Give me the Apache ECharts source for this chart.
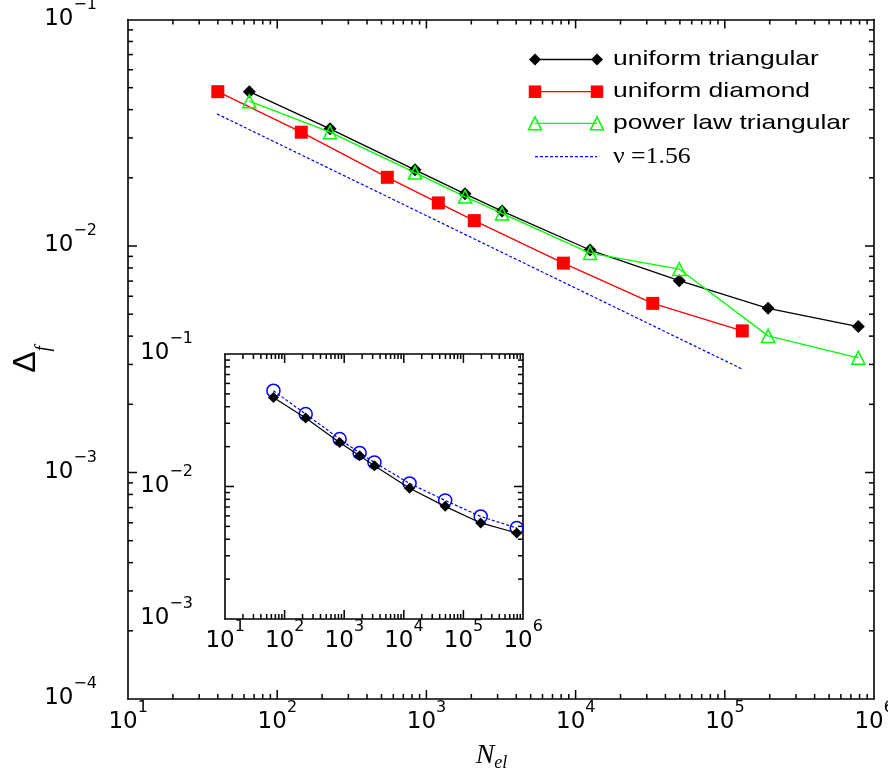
<!DOCTYPE html>
<html>
<head>
<meta charset="utf-8">
<script src="https://cdn.jsdelivr.net/npm/echarts@6/dist/echarts.min.js"></script>
<style>
html, body { margin: 0; padding: 0; background: #fff; }
#chart { width: 888px; height: 782px; }
</style>
</head>
<body>
<div id="chart"></div>
<script>
// Mesh sizes (number of elements) and relative error Delta_f for each mesh family
const nTriangular = [65, 226, 839, 1815, 3214, 12500, 49500, 195000, 785000];
const deltaUniformTriangular = [0.0480, 0.0329, 0.0217, 0.0170, 0.01426, 0.0096, 0.00703, 0.00531, 0.00441];
const deltaPowerLawTriangular = [0.0436, 0.0318, 0.0211, 0.01652, 0.01393, 0.00931, 0.00791, 0.00401, 0.00321];
const nDiamond = [40, 145, 547, 1202, 2094, 8280, 32900, 131000];
const deltaUniformDiamond = [0.0480, 0.0318, 0.0201, 0.0155, 0.01294, 0.00840, 0.00558, 0.00422];
// Reference power law with nu = 1.56 (end points of the guide line)
const nFit = [39.5, 131000];
const deltaFit = [0.0383, 0.00286];
// Inset: uniform triangular meshes, two estimates
const nInset = [65, 226, 839, 1815, 3214, 12500, 49500, 195000, 785000];
const deltaInsetDiamonds = [0.0470, 0.0329, 0.0215, 0.0171, 0.01435, 0.0097, 0.00708, 0.00531, 0.00446];
const deltaInsetCircles = [0.0528, 0.0352, 0.0228, 0.0179, 0.0152, 0.01054, 0.00785, 0.00594, 0.00486];

const seriesNames = ['uniform triangular', 'uniform diamond', 'power law triangular', '\u03bd =1.56'];

// Decade tick values
const xDecades = [10, 100, 1e3, 1e4, 1e5, 1e6];
const yDecadesMain = [1e-4, 1e-3, 1e-2, 1e-1];
const yDecadesInset = [1e-3, 1e-2, 1e-1];

// Plot boxes (main frame and inset)
const mainBox = { left: 128, top: 19.5, width: 746, height: 679.5 };
const insetBox = { left: 225, top: 354, width: 298, height: 265 };

const GREEN = '#00ff00';
const RED = '#ff0000';
const BLUE = '#0000ff';

// The 2..9 multiples inside each decade
function minorValues(decades) {
  const out = [];
  for (let i = 0; i < decades.length - 1; i++) {
    for (let m = 2; m <= 9; m++) out.push(decades[i] * m);
  }
  return out;
}

function powerLabel(v) {
  const p = Math.round(Math.log10(v));
  return '{h| }{b|10}{e|' + (p < 0 ? '\u2212' + (-p) : String(p)) + '}';
}

const labelRich = {
  h: { fontSize: 1, lineHeight: 34 },
  b: { fontFamily: 'DejaVu Sans', fontSize: 23, lineHeight: 24, verticalAlign: 'bottom', color: '#000' },
  e: { fontFamily: 'DejaVu Sans', fontSize: 16, lineHeight: 20, verticalAlign: 'top', color: '#000' }
};

// Framed log axes: one on each side of the plot box
function buildAxes(dim, gridIndex, decades, labelMargin, extra) {
  const sides = dim === 'x' ? ['bottom', 'top'] : ['left', 'right'];
  return sides.map(function (side, si) {
    const ax = {
      type: 'log',
      logBase: 10,
      gridIndex: gridIndex,
      position: side,
      min: decades[0],
      max: decades[decades.length - 1],
      axisLine: { show: true, onZero: false, lineStyle: { color: '#000', width: 1.6 } },
      axisTick: { show: false },
      axisLabel: {
        show: si === 0,
        formatter: powerLabel,
        rich: labelRich,
        margin: labelMargin,
        padding: dim === 'y' ? [0, 0, 12, 0] : 0
      },
      splitLine: { show: false },
      minorTick: { show: false },
      minorSplitLine: { show: false }
    };
    if (si === 0 && extra) Object.assign(ax, extra);
    return ax;
  });
}

const xAxes = [].concat(
  buildAxes('x', 0, xDecades, 1, {
    name: '{n|N}{s|el}',
    nameLocation: 'middle',
    nameGap: 43,
    nameMoveOverlap: false,
    nameTextStyle: {
      padding: [0, 19, 0, 0],
      rich: {
        n: { fontFamily: 'Liberation Serif', fontStyle: 'italic', fontSize: 28, lineHeight: 30, verticalAlign: 'top', color: '#000' },
        s: { fontFamily: 'Liberation Serif', fontStyle: 'italic', fontSize: 18, lineHeight: 20, verticalAlign: 'bottom', color: '#000' },
        h: { fontSize: 1, lineHeight: 40 }
      }
    }
  }),
  buildAxes('x', 1, xDecades, 0)
);

const yAxes = [].concat(
  buildAxes('y', 0, yDecadesMain, 31, {
    name: '{d|\u0394}{f|f}{h| }',
    nameLocation: 'middle',
    nameRotate: 90,
    nameGap: 74,
    nameMoveOverlap: false,
    nameTextStyle: {
      rich: {
        d: { fontFamily: 'Liberation Sans', fontSize: 32, lineHeight: 34, verticalAlign: 'top', color: '#000' },
        f: { fontFamily: 'Liberation Serif', fontStyle: 'italic', fontSize: 20, lineHeight: 20, verticalAlign: 'bottom', color: '#000' },
        h: { fontSize: 1, lineHeight: 44 }
      }
    }
  }),
  buildAxes('y', 1, yDecadesInset, 32)
);

function zip(xs, ys) {
  return xs.map(function (x, i) { return [x, ys[i]]; });
}

const series = [
  {
    name: seriesNames[0], type: 'line', xAxisIndex: 0, yAxisIndex: 0,
    data: zip(nTriangular, deltaUniformTriangular),
    symbol: 'diamond', symbolSize: 13,
    lineStyle: { color: '#000', width: 1.3 },
    itemStyle: { color: '#000' },
    z: 3
  },
  {
    name: seriesNames[1], type: 'line', xAxisIndex: 0, yAxisIndex: 0,
    data: zip(nDiamond, deltaUniformDiamond),
    symbol: 'rect', symbolSize: 13,
    lineStyle: { color: RED, width: 1.3 },
    itemStyle: { color: RED },
    z: 3
  },
  {
    name: seriesNames[2], type: 'line', xAxisIndex: 0, yAxisIndex: 0,
    data: zip(nTriangular, deltaPowerLawTriangular),
    symbol: 'triangle', symbolSize: 13,
    lineStyle: { color: GREEN, width: 1.3 },
    itemStyle: { color: 'rgba(0,0,0,0)', borderColor: GREEN, borderWidth: 1.5 },
    z: 4
  },
  {
    name: seriesNames[3], type: 'line', xAxisIndex: 0, yAxisIndex: 0,
    data: zip(nFit, deltaFit),
    showSymbol: false, symbol: 'none',
    lineStyle: { color: BLUE, width: 1.2, type: [3, 2] },
    z: 2
  },
  {
    name: 'inset circles', type: 'line', xAxisIndex: 2, yAxisIndex: 2,
    data: zip(nInset, deltaInsetCircles),
    symbol: 'circle', symbolSize: 13,
    lineStyle: { color: BLUE, width: 1.2, type: [3, 2] },
    itemStyle: { color: 'rgba(0,0,0,0)', borderColor: BLUE, borderWidth: 1.5 },
    z: 3
  },
  {
    name: 'inset diamonds', type: 'line', xAxisIndex: 2, yAxisIndex: 2,
    data: zip(nInset, deltaInsetDiamonds),
    symbol: 'diamond', symbolSize: 11,
    lineStyle: { color: '#000', width: 1.2 },
    itemStyle: { color: '#000' },
    z: 4
  }
];
series.forEach(function (s) { s.animation = false; s.silent = true; });

// Legend drawn as line samples with markers at both ends
const legendY = [59.5, 91.7, 123.3, 156.7];
const lx0 = 535, lx1 = 597, tx = 613;
function diamondAt(x, y, c) {
  return { type: 'polygon', shape: { points: [[x, y - 6], [x + 6, y], [x, y + 6], [x - 6, y]] }, style: { fill: c } };
}
function squareAt(x, y, c) {
  return { type: 'rect', shape: { x: x - 6.25, y: y - 6.25, width: 12.5, height: 12.5 }, style: { fill: c } };
}
function triangleAt(x, y, c) {
  return { type: 'polygon', shape: { points: [[x, y - 6.5], [x + 6.5, y + 6.5], [x - 6.5, y + 6.5]] }, style: { fill: 'none', stroke: c, lineWidth: 1.5 } };
}
function lineAt(y, c, dash) {
  return { type: 'line', shape: { x1: lx0, y1: y, x2: lx1, y2: y }, style: { stroke: c, lineWidth: dash ? 1.2 : 1.3, lineDash: dash || null } };
}
function legendText(y, text, font, sx) {
  return { type: 'text', x: tx, y: y, scaleX: sx, style: { text: text, font: font, fill: '#000', align: 'left', verticalAlign: 'middle' } };
}
const sansFont = '21px "Liberation Sans", Arial, sans-serif';
const legendChildren = [
  lineAt(legendY[0], '#000'), diamondAt(lx0, legendY[0], '#000'), diamondAt(lx1, legendY[0], '#000'),
  legendText(legendY[0], seriesNames[0], sansFont, 1.26),
  lineAt(legendY[1], RED), squareAt(lx0, legendY[1], RED), squareAt(lx1, legendY[1], RED),
  legendText(legendY[1], seriesNames[1], sansFont, 1.26),
  lineAt(legendY[2], GREEN), triangleAt(lx0, legendY[2], GREEN), triangleAt(lx1, legendY[2], GREEN),
  legendText(legendY[2], seriesNames[2], sansFont, 1.26),
  lineAt(legendY[3], BLUE, [3, 2]),
  legendText(legendY[3], seriesNames[3], '23px "Liberation Serif", "Times New Roman", serif', 1.12)
];

// Inward tick marks on all four sides of a log-log box (positions follow the
// same log10 mapping the axes use across the box)
function frameTicks(box, xDec, yDec) {
  const lx0 = Math.log10(xDec[0]), lx1 = Math.log10(xDec[xDec.length - 1]);
  const ly0 = Math.log10(yDec[0]), ly1 = Math.log10(yDec[yDec.length - 1]);
  const toX = function (v) { return box.left + (Math.log10(v) - lx0) / (lx1 - lx0) * box.width; };
  const toY = function (v) { return box.top + box.height - (Math.log10(v) - ly0) / (ly1 - ly0) * box.height; };
  const xL = box.left, xR = box.left + box.width;
  const yT = box.top, yB = box.top + box.height;
  const els = [];
  const barV = function (x, y0, y1) {
    els.push({ type: 'rect', shape: { x: x - 0.75, y: Math.min(y0, y1), width: 1.5, height: Math.abs(y1 - y0) }, style: { fill: '#000' } });
  };
  const barH = function (y, x0, x1) {
    els.push({ type: 'rect', shape: { x: Math.min(x0, x1), y: y - 0.75, width: Math.abs(x1 - x0), height: 1.5 }, style: { fill: '#000' } });
  };
  const addX = function (vals, len) {
    vals.forEach(function (v) { const px = toX(v); barV(px, yB, yB - len); barV(px, yT, yT + len); });
  };
  const addY = function (vals, len) {
    vals.forEach(function (v) { const py = toY(v); barH(py, xL, xL + len); barH(py, xR, xR - len); });
  };
  addX(xDec.slice(1, -1), 9);
  addX(minorValues(xDec), 5);
  addY(yDec.slice(1, -1), 9);
  addY(minorValues(yDec), 5);
  return els;
}

const chart = echarts.init(document.getElementById('chart'), null, { renderer: 'canvas' });
chart.setOption({
  animation: false,
  backgroundColor: '#fff',
  grid: [
    Object.assign({ show: false, containLabel: false, outerBoundsMode: 'none' }, mainBox),
    Object.assign({ show: true, backgroundColor: '#fff', borderWidth: 0, containLabel: false, outerBoundsMode: 'none' }, insetBox)
  ],
  xAxis: xAxes,
  yAxis: yAxes,
  series: series,
  graphic: [
    { id: 'legend', type: 'group', silent: true, children: legendChildren },
    { id: 'ticks', type: 'group', silent: true, z: 10,
      children: frameTicks(mainBox, xDecades, yDecadesMain).concat(frameTicks(insetBox, xDecades, yDecadesInset)) }
  ]
});
</script>
</body>
</html>
